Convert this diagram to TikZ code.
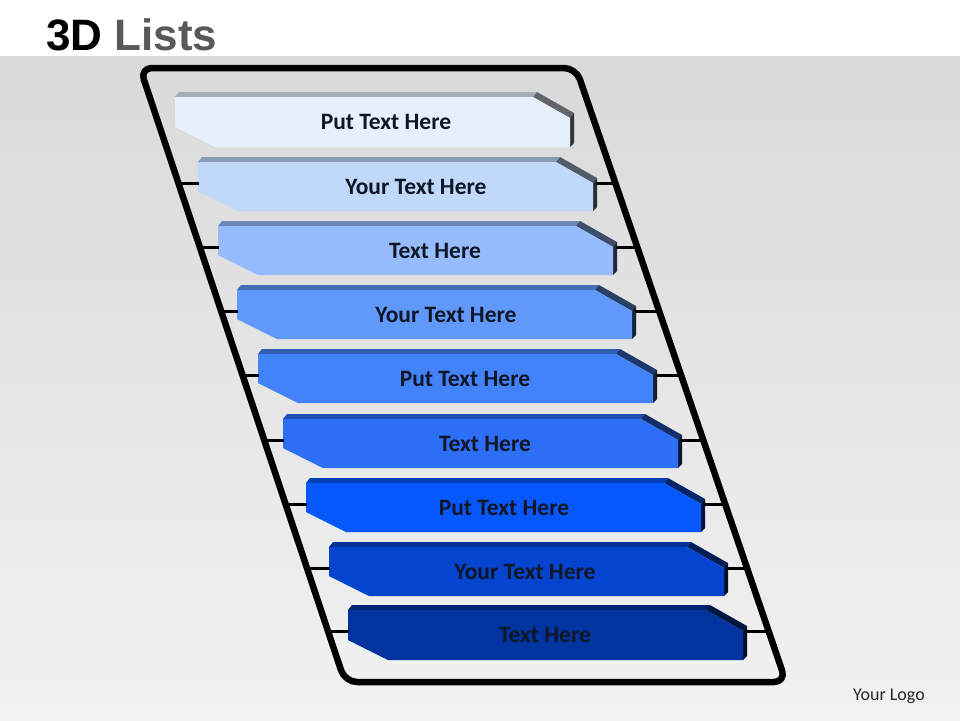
\documentclass[tikz,border=0pt]{standalone}
\usepackage{fontspec}
\setmainfont{Carlito}
\newfontfamily\titlefont{Liberation Sans}
\begin{document}
\begin{tikzpicture}[x=1pt,y=-1pt,
  bartext/.style={font=\fontsize{23.5}{26}\selectfont\bfseries, text=txtcol, inner sep=0pt},
  tick/.style={line width=3pt, black},
  framestyle/.style={line width=6.5pt, rounded corners=12pt, black, line join=round}]
\definecolor{txtcol}{HTML}{0F1626}
\definecolor{ca}{HTML}{E6F0FD}
\definecolor{cb}{HTML}{C0D8FA}
\definecolor{cc}{HTML}{97BCFD}
\definecolor{cd}{HTML}{6199FB}
\definecolor{ce}{HTML}{4383FA}
\definecolor{cf}{HTML}{2D6EF7}
\definecolor{cg}{HTML}{0758FC}
\definecolor{ch}{HTML}{0444CE}
\definecolor{ci}{HTML}{0234A0}
\newcommand\mybar[8]{%
 \pgfmathsetmacro\Ta{#3+5}%
 \pgfmathsetmacro\Tc{#3+21}%
 \pgfmathsetmacro\Td{#3+26}%
 \pgfmathsetmacro\Ra{#4-37}%
 \pgfmathsetmacro\Rb{#4-33}%
 \pgfmathsetmacro\Rc{#4+4}%
 \pgfmathsetmacro\La{#2+4}%
 \pgfmathsetmacro\Lb{#2+40}%
 \pgfmathsetmacro\Ba{#5-20}%
 \pgfmathsetmacro\Bb{#5-4}%
 \pgfmathsetmacro\Ty{(#3+5+#5)/2}%
 \pgfmathsetmacro\XL{140+(\Td-68)/3}%
 \pgfmathsetmacro\XR{576+0.342*(\Td-68)}%
 \coordinate (fl#1) at (\XL,\Td);
 \coordinate (fr#1) at (\XR,\Td);
 \coordinate (bl#1) at (#2+1,\Td);
 \coordinate (br#1) at (\Rc-1,\Td);
 \fill[#6!72!black] (#2,\Ta) -- (\La,#3) -- (\Rb,#3) -- (\Ra,\Ta) -- cycle;
 \fill[#6!42!black] (\Ra,\Ta) -- (\Rb,#3) -- (\Rc,\Tc) -- (#4,\Td) -- cycle;
 \fill[#6!22!black] (#4,\Td) -- (\Rc,\Tc) -- (\Rc,\Bb) -- (#4,#5) -- cycle;
 \fill[#6] (#2,\Ta) -- (\Ra,\Ta) -- (#4,\Td) -- (#4,#5) -- (\Lb,#5) -- (#2,\Ba) -- cycle;
 \node[bartext] (t#1) at (#7,\Ty) {#8};
}
% background
\fill[white] (0,0) rectangle (960,56);
\shade[top color={rgb,255:red,217;green,217;blue,217}, bottom color={rgb,255:red,242;green,242;blue,242}] (0,56) rectangle (960,720);
\useasboundingbox (0,0) rectangle (960,720);
% title
\node[anchor=base west, inner sep=0pt, font=\titlefont\fontsize{44}{48}\selectfont\bfseries] (title) at (46,50) {3D \textcolor[HTML]{595959}{Lists}};
\node[font=\fontsize{18}{20}\selectfont, text={rgb,255:red,40;green,40;blue,40}, inner sep=0pt] (logo) at (889,696) {Your Logo};
% frame
\coordinate (ftl) at (140,68);
\coordinate (ftr) at (576,68);
\coordinate (fbr) at (786,682);
\coordinate (fbl) at (345,682);
\draw[framestyle] (ftl) -- (ftr) -- (fbr) -- (fbl) -- cycle;
% bars
\mybar{1}{175}{92}{570}{147}{ca}{386}{Put Text Here}
\mybar{2}{198}{157}{593}{211}{cb}{416}{Your Text Here}
\mybar{3}{218}{221}{613}{275}{cc}{435}{Text Here}
\mybar{4}{237}{285}{632}{339}{cd}{446}{Your Text Here}
\mybar{5}{258}{349}{653}{403}{ce}{465}{Put Text Here}
\mybar{6}{283}{414}{678}{468}{cf}{485}{Text Here}
\mybar{7}{306}{478}{701}{532}{cg}{504}{Put Text Here}
\mybar{8}{329}{542}{724}{596}{ch}{525}{Your Text Here}
\mybar{9}{348}{605}{743}{660}{ci}{545}{Text Here}
% ticks
\foreach \i in {2,...,9}{
  \draw[tick] (fl\i) -- (bl\i);
  \draw[tick] (br\i) -- (fr\i);
}
\end{tikzpicture}
\end{document}
